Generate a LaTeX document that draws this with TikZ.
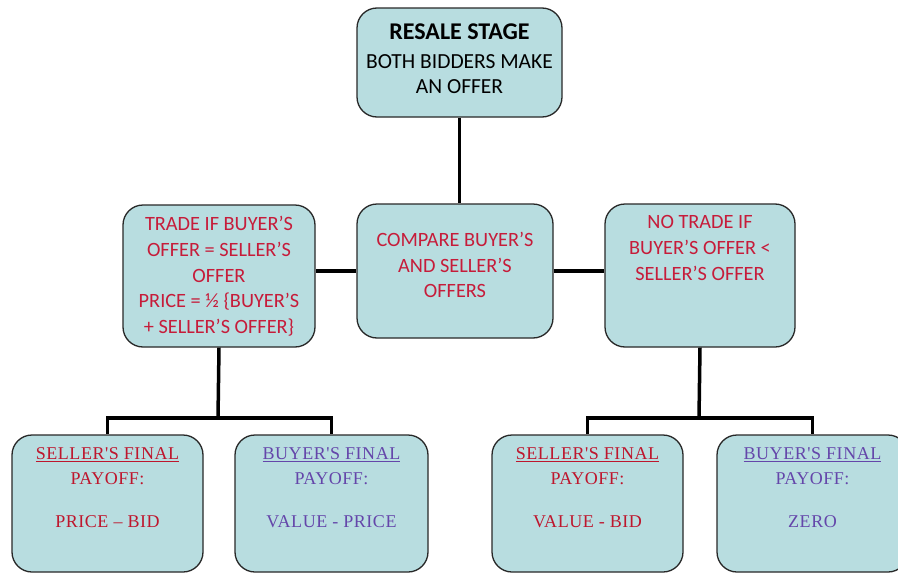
\documentclass[tikz,border=0pt]{standalone}
\usepackage{fontspec}
\setmainfont{Carlito}
\newfontfamily\payfont{Liberation Serif}[LetterSpace=3]
\definecolor{boxfill}{RGB}{184,221,224}
\definecolor{redtxt}{RGB}{198,28,58}
\definecolor{sellred}{RGB}{190,22,45}
\definecolor{buypurp}{RGB}{100,70,170}
\definecolor{edge}{RGB}{40,40,40}
\tikzset{
  box/.style={draw=edge, line width=1.3pt, fill=boxfill, rounded corners=20pt, inner sep=0pt},
  link/.style={line width=3.5pt, black},
  toptxt/.style={align=center, font=\fontsize{21.5}{25.5}\selectfont, inner sep=0pt},
  midtxt/.style={align=center, font=\fontsize{20.3}{25.7}\selectfont, text=redtxt, inner sep=0pt},
  paytxt/.style={align=center, font=\payfont\fontsize{18}{25}\selectfont, inner sep=0pt}
}
\begin{document}
\begin{tikzpicture}[x=1pt,y=-1pt]
\useasboundingbox (0,0) rectangle (898,573);
\begin{scope}
\clip (0,0) rectangle (898,573);
% boxes
\node[box, minimum width=205pt, minimum height=109pt] (top) at (459.5,62.5) {};
\node[box, minimum width=196pt, minimum height=134pt] (cmp) at (455,271) {};
\node[box, minimum width=192pt, minimum height=142pt] (lft) at (219,276) {};
\node[box, minimum width=190pt, minimum height=143pt] (rgt) at (700,275.5) {};
\node[box, minimum width=191pt, minimum height=137pt] (b1) at (107.5,503.5) {};
\node[box, minimum width=193pt, minimum height=137pt] (b2) at (331.5,503.5) {};
\node[box, minimum width=191pt, minimum height=137pt] (b3) at (587.5,503.5) {};
\node[box, minimum width=191pt, minimum height=137pt] (b4) at (812.5,503.5) {};
% connectors
\coordinate (jl) at (218,418);
\coordinate (jr) at (699,418);
\draw[link] (top.south) -- (top.south |- cmp.north);
\draw[link] (cmp.west) -- (cmp.west -| lft.east);
\draw[link] (cmp.east) -- (cmp.east -| rgt.west);
\draw[link] (lft.south) -- (jl);
\draw[link] (rgt.south) -- (jr);
\draw[link] (b1.north) |- (jl) -| (b2.north);
\draw[link] (b3.north) |- (jr) -| (b4.north);
% texts
\node[toptxt] (ttop) at (459.5,59) {{\fontsize{24}{26}\selectfont\bfseries RESALE STAGE}\\[3pt]BOTH BIDDERS MAKE\\AN OFFER};
\node[midtxt] (tcmp) at (455,265) {COMPARE BUYER'S\\AND SELLER'S\\OFFERS};
\node[midtxt] (tlft) at (219,276.5) {TRADE IF BUYER'S\\OFFER = SELLER'S\\OFFER\\PRICE = ½ \{BUYER'S\\+ SELLER'S OFFER\}};
\node[midtxt] (trgt) at (700,248) {NO TRADE IF\\BUYER'S OFFER <\\SELLER'S OFFER};
\node[paytxt, text=sellred] (t1) at (107.5,466) {\underline{SELLER'S FINAL}\\PAYOFF:};
\node[paytxt, text=sellred] (v1) at (107.5,522) {PRICE – BID};
\node[paytxt, text=buypurp] (t2) at (331.5,466) {\underline{BUYER'S FINAL}\\PAYOFF:};
\node[paytxt, text=buypurp] (v2) at (331.5,522) {VALUE - PRICE};
\node[paytxt, text=sellred] (t3) at (587.5,466) {\underline{SELLER'S FINAL}\\PAYOFF:};
\node[paytxt, text=sellred] (v3) at (587.5,522) {VALUE - BID};
\node[paytxt, text=buypurp] (t4) at (812.5,466) {\underline{BUYER'S FINAL}\\PAYOFF:};
\node[paytxt, text=buypurp] (v4) at (812.5,522) {ZERO};
\end{scope}
\end{tikzpicture}
\end{document}
